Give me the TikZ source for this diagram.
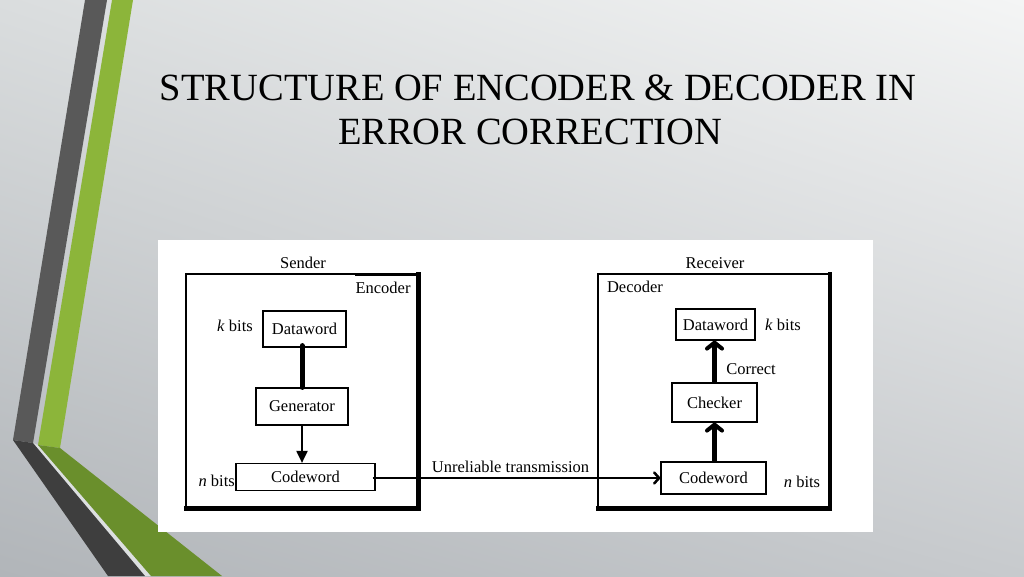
\documentclass[tikz,border=0pt]{standalone}
\usepackage{fontspec}
\setmainfont{Liberation Serif}
\usetikzlibrary{arrows.meta,calc,shadings}
\definecolor{bgUL}{HTML}{DADDDE}
\definecolor{bgUR}{HTML}{F4F5F5}
\definecolor{bgLL}{HTML}{B1B5B9}
\definecolor{bgLR}{HTML}{C7CACD}
\definecolor{darkA}{HTML}{595959}
\definecolor{darkB}{HTML}{3E3E3E}
\definecolor{greenA}{HTML}{8CB53A}
\definecolor{greenB}{HTML}{6A8F2C}
\definecolor{gapline}{HTML}{DCDFE0}
\newcommand{\dfont}{\fontsize{16.5}{19}\selectfont}
\tikzset{
  box/.style={draw=black, line width=1.2pt, fill=white, inner sep=0pt, font=\dfont},
  lbl/.style={font=\dfont, inner sep=0pt},
  thinline/.style={line width=1.2pt},
  heavyline/.style={line width=5pt},
  titlefont/.style={font=\fontsize{38.5}{44}\selectfont, inner sep=0pt},
}
\begin{document}
\begin{tikzpicture}[x=1pt,y=-1pt]
\useasboundingbox (0,0) rectangle (1024,576);
% background
\shade[upper left=bgUL, upper right=bgUR, lower left=bgLL, lower right=bgLR] (0,0) rectangle (1024,576);
% decorative stripes
\fill[darkA] (85,0) -- (107,0) -- (33,443) -- (13,440) -- cycle;
\fill[greenA] (112,0) -- (133,0) -- (60,448) -- (38,445) -- cycle;
\fill[gapline] (33,443) -- (38,445) -- (152,576) -- (144,576) -- cycle;
\fill[darkB] (13,440) -- (33,443) -- (145,576) -- (108,576) -- cycle;
\fill[greenB] (38,445) -- (60,448) -- (222,576) -- (151,576) -- cycle;
% title
\node[titlefont, anchor=base] (t1) at (538,100) {STRUCTURE OF ENCODER \& DECODER IN};
\node[titlefont, anchor=base] (t2) at (530,144) {ERROR CORRECTION};
% white panel
\fill[white] (158,240) rectangle (873,532);
% sender box
\draw[thinline] (355,274) -- (186,274) -- (186,508);
\draw[line width=3pt] (355,274) -- (418,274);
\draw[heavyline] (418,272) -- (418,508) -- (184,508);
\draw[line width=2pt] (186,305) -- (186,340);
% receiver box
\draw[thinline] (830,274) -- (598,274) -- (598,508);
\draw[line width=4pt] (830,272) -- (830,508);
\draw[heavyline] (832,508) -- (596,508);
\draw[line width=1pt] (828,380) -- (831,380);
% labels of boxes
\node[lbl] (sender) at (303,263) {Sender};
\node[lbl] (encoder) at (383,288) {Encoder};
\node[lbl] (receiver) at (715,263) {Receiver};
\node[lbl] (decoder) at (635,287) {Decoder};
% sender nodes
\node[box, minimum width=83pt, minimum height=36pt] (sdw) at (304.5,329) {Dataword};
\node[box, minimum width=92pt, minimum height=37pt] (sgen) at (302,406.5) {Generator};
\node[box, minimum width=139pt, minimum height=27pt] (scw) at (305.5,477) {Codeword};
\node[lbl] (skb) at (235,326) {\textit{k} bits};
\node[lbl, anchor=east] (snb) at (235,481) {\textit{n} bits};
% receiver nodes
\node[box, minimum width=79pt, minimum height=31pt] (rdw) at (715.5,324.5) {Dataword};
\node[box, minimum width=85pt, minimum height=39pt] (rchk) at (714.5,402.5) {Checker};
\node[box, minimum width=105pt, minimum height=32pt] (rcw) at (713.5,478) {Codeword};
\node[lbl] (rkb) at (783,325) {\textit{k} bits};
\node[lbl] (rnb) at (802,482) {\textit{n} bits};
\node[lbl] (corr) at (751,369) {Correct};
% connectors
\draw[heavyline, line cap=round] ($(sgen.north |- sdw.south)+(0,-2)$) -- (sgen.north);
\draw[line width=2pt, -{Triangle[length=12pt,width=11pt]}] (sgen.south) -- (sgen.south |- scw.north);
\draw[heavyline, -{Straight Barb[length=6pt,width=15pt,line width=4pt,round]}] (rchk.south |- rcw.north) -- (rchk.south);
\draw[heavyline, -{Straight Barb[length=6pt,width=15pt,line width=4pt,round]}] (rchk.north) -- (rchk.north |- rdw.south);
\coordinate (txs) at ($(scw.east)+(-3,1)$);
\draw[line width=1.5pt, -{Straight Barb[length=5pt,width=11pt,line width=2.5pt,round]}] (txs) -- (txs -| rcw.west);
\node[lbl] (unrel) at (510.5,467) {Unreliable transmission};
\end{tikzpicture}
\end{document}
